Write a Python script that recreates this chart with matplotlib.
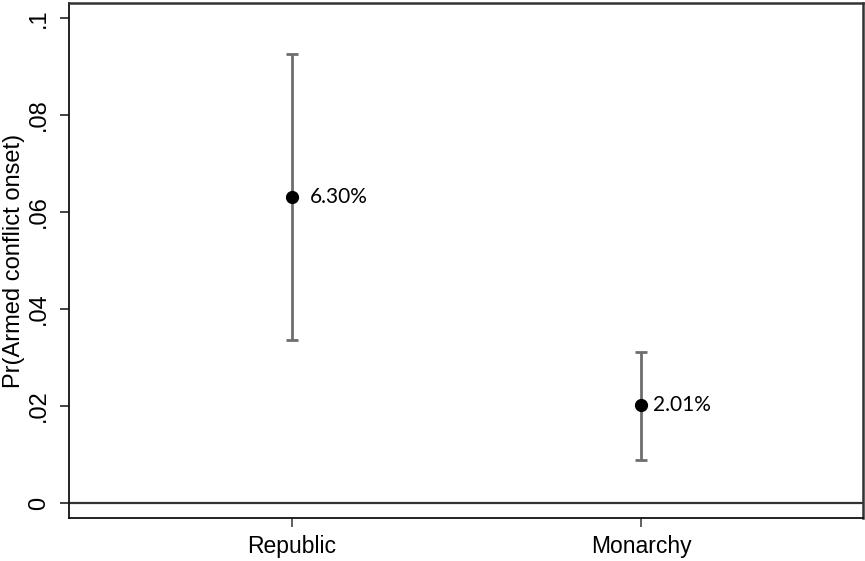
import matplotlib
matplotlib.use("Agg")
import matplotlib.pyplot as plt

# predicted probability of armed conflict onset by regime type
regimes = ["Republic", "Monarchy"]
prob = [0.0630, 0.0201]
ci_low = [0.0336, 0.0089]
ci_high = [0.0926, 0.0311]
prob_labels = ["6.30%", "2.01%"]

plt.rcParams['font.family'] = ['Liberation Sans', 'DejaVu Sans']

fig = plt.figure(figsize=(8.65, 5.61), dpi=100)
ax = fig.add_axes([69 / 865, 43 / 561, 794 / 865, 515 / 561])

xpos = [1, 2]
for i, x in enumerate(xpos):
    ax.errorbar(x, prob[i],
                yerr=[[prob[i] - ci_low[i]], [ci_high[i] - prob[i]]],
                fmt='none', ecolor='#6e6e6e', elinewidth=2, capsize=4.5,
                capthick=2, zorder=2)
    ax.plot(x, prob[i], 'o', color='black', markersize=8.5, zorder=3)

ax.text(xpos[0] + 0.052, prob[0], prob_labels[0], va='center', ha='left',
        fontsize=15, family=['Lato', 'DejaVu Sans'])
ax.text(xpos[1] + 0.034, prob[1], prob_labels[1], va='center', ha='left',
        fontsize=15, family=['Lato', 'DejaVu Sans'])

ax.axhline(0, color='#333333', linewidth=1.6, zorder=1)

ax.set_xlim(0.361, 2.636)
ax.set_ylim(-0.0031, 0.1031)
ax.set_xticks(xpos)
ax.set_xticklabels(regimes, fontsize=16.5)
ax.set_yticks([0, 0.02, 0.04, 0.06, 0.08, 0.1])
ax.set_yticklabels(["0", ".02", ".04", ".06", ".08", ".1"], fontsize=17,
                   rotation=90, va='center')
ax.tick_params(axis='y', length=6.5, width=1.2, pad=7, color='#222222')
ax.tick_params(axis='x', length=6.5, width=1.2, pad=6, color='#444444')
ax.set_ylabel("Pr(Armed conflict onset)", fontsize=17, labelpad=2)

for side in ['left', 'bottom']:
    ax.spines[side].set_color('#111111')
    ax.spines[side].set_linewidth(1.3)
for side in ['top', 'right']:
    ax.spines[side].set_color('#333333')
    ax.spines[side].set_linewidth(1.8)

fig.savefig("out.png", dpi=100)
